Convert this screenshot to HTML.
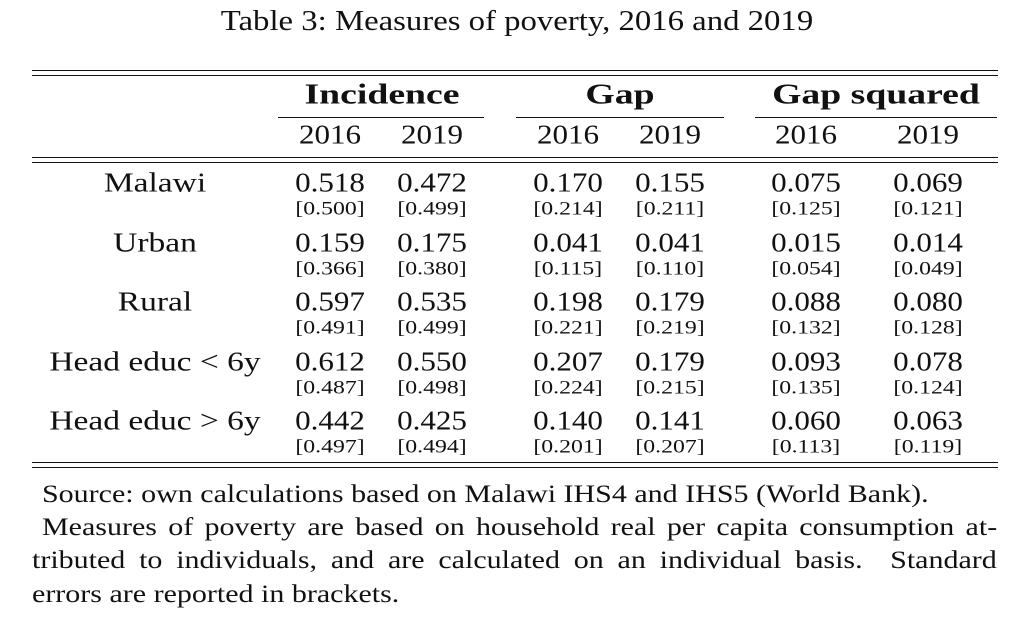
<!DOCTYPE html>
<html><head><meta charset="utf-8"><style>
body{margin:0;width:1034px;height:626px;background:#fff;font-family:"Liberation Serif",serif;color:#111;position:relative;overflow:hidden}
.t{position:absolute;white-space:nowrap;line-height:1}
.v{font-size:27px;transform:translate(-50%,-50%) scaleX(1.15)}
.lab{font-size:27px;transform:translate(-50%,-50%) scaleX(1.24)}
.s{font-size:19px;transform:translate(-50%,-50%) scaleX(1.25)}
.h{font-size:29px;font-weight:bold;transform:translate(-50%,-50%) scaleX(1.3)}
.r{position:absolute;height:1.3px;background:#111}
.n{position:absolute;left:32px;width:804px;font-size:25px;line-height:1;white-space:nowrap;text-align:justify;text-align-last:justify;transform:scaleX(1.2);transform-origin:0 0}
</style></head><body>
<div class="t" style="left:517px;top:22px;font-size:28px;transform:translate(-50%,-50%) scaleX(1.17)">Table 3: Measures of poverty, 2016 and 2019</div>
<div class="r" style="left:32px;width:966px;top:70px"></div>
<div class="r" style="left:32px;width:966px;top:75px"></div>
<div class="t h" style="left:382px;top:95px">Incidence</div>
<div class="t h" style="left:620px;top:95px">Gap</div>
<div class="t h" style="left:876px;top:95px">Gap squared</div>
<div class="r" style="left:278px;width:206px;top:117px"></div>
<div class="r" style="left:516px;width:208px;top:117px"></div>
<div class="r" style="left:755px;width:242px;top:117px"></div>
<div id="years"></div>
<div class="r" style="left:32px;width:966px;top:157px"></div>
<div class="r" style="left:32px;width:966px;top:162px"></div>
<div id="body"></div>
<div class="r" style="left:32px;width:966px;top:462px"></div>
<div class="r" style="left:32px;width:966px;top:467px"></div>
<div class="n" style="top:482px;left:42px;text-align:left;text-align-last:left">Source: own calculations based on Malawi IHS4 and IHS5 (World Bank).</div>
<div class="n" style="top:515px;left:42px;width:796px">Measures of poverty are based on household real per capita consumption at-</div>
<div class="n" style="top:548px">tributed to individuals, and are calculated on an individual basis.&nbsp; Standard</div>
<div class="n" style="top:582px;text-align:left;text-align-last:left">errors are reported in brackets.</div>
<script>
const rowLabels=["Malawi","Urban","Rural","Head educ < 6y","Head educ > 6y"];
const years=["2016","2019","2016","2019","2016","2019"];
const values=[["0.518","0.472","0.170","0.155","0.075","0.069"],["0.159","0.175","0.041","0.041","0.015","0.014"],["0.597","0.535","0.198","0.179","0.088","0.080"],["0.612","0.550","0.207","0.179","0.093","0.078"],["0.442","0.425","0.140","0.141","0.060","0.063"]];
const errors=[["0.500","0.499","0.214","0.211","0.125","0.121"],["0.366","0.380","0.115","0.110","0.054","0.049"],["0.491","0.499","0.221","0.219","0.132","0.128"],["0.487","0.498","0.224","0.215","0.135","0.124"],["0.497","0.494","0.201","0.207","0.113","0.119"]];
const colX=[330,432,568,670,806,928];
function mk(parent,cls,x,y,txt){const d=document.createElement('div');d.className='t '+cls;d.style.left=x+'px';d.style.top=y+'px';d.textContent=txt;parent.appendChild(d);return d;}
const Y=document.getElementById('years');
years.forEach((y,i)=>{const d=mk(Y,'v',colX[i],135,y);

});
const B=document.getElementById('body');
rowLabels.forEach((l,r)=>{const y0=183+r*59.5;
const d=mk(B,'lab',155,y0,l);


values[r].forEach((v,c)=>{const e=mk(B,'v',colX[c],y0,v);


const s=mk(B,'s',colX[c],y0+26,'['+errors[r][c]+']');

});});
</script>
</body></html>
